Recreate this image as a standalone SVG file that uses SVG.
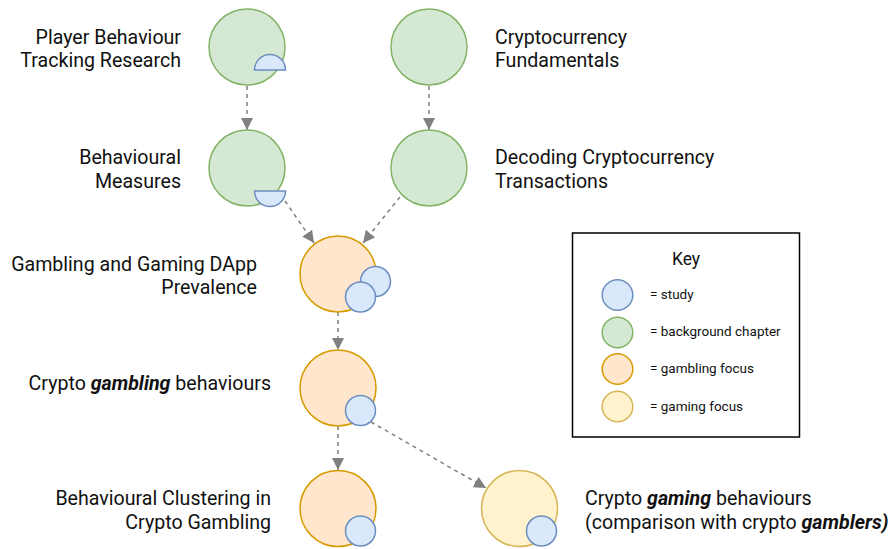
<svg xmlns="http://www.w3.org/2000/svg" width="894" height="549" viewBox="0 0 894 549">
<style>
  .bg{fill:#d5e8d4;stroke:#82b366;stroke-width:1.5}
  .gb{fill:#ffe6cc;stroke:#d79b00;stroke-width:1.5}
  .gm{fill:#fff2cc;stroke:#d6b656;stroke-width:1.5}
  .st{fill:#dae8fc;stroke:#6c8ebf;stroke-width:1.5}
  .lbl{font-family:Roboto,"Liberation Sans",sans-serif;font-size:19.6px;fill:#111111}
  .em{font-weight:bold;font-style:italic}
  .key{font-family:Roboto,"Liberation Sans",sans-serif;font-size:13.5px;fill:#111111}
  .edge{fill:none;stroke:#808080;stroke-width:1.5;stroke-dasharray:4 4}
</style>
<defs>
  <marker id="arr" viewBox="0 0 12 12" refX="12" refY="6" markerWidth="12" markerHeight="12" markerUnits="userSpaceOnUse" orient="auto">
    <path d="M0,0 L12,6 L0,12 z" fill="#808080"/>
  </marker>
</defs>
<rect width="894" height="549" fill="#ffffff"/>

<g id="connectors">
  <line class="edge" x1="247" y1="86" x2="247" y2="130" marker-end="url(#arr)"/>
  <line class="edge" x1="429" y1="86" x2="429" y2="130" marker-end="url(#arr)"/>
  <line class="edge" x1="285" y1="201" x2="314" y2="243" marker-end="url(#arr)"/>
  <line class="edge" x1="400" y1="197" x2="363" y2="243" marker-end="url(#arr)"/>
  <line class="edge" x1="338" y1="312" x2="338" y2="350" marker-end="url(#arr)"/>
  <line class="edge" x1="338" y1="426" x2="338" y2="470" marker-end="url(#arr)"/>
  <line class="edge" x1="371" y1="422" x2="486" y2="488" marker-end="url(#arr)"/>
</g>

<g id="player-behaviour-tracking">
  <circle class="bg" cx="247" cy="47" r="38"/>
  <path class="st" d="M254.5,70 A15.5,15.5 0 0 1 285.5,70 Z"/>
  <text class="lbl" text-anchor="end" x="181" y="44">Player Behaviour</text>
  <text class="lbl" text-anchor="end" x="181" y="67">Tracking Research</text>
</g>

<g id="crypto-fundamentals">
  <circle class="bg" cx="429" cy="47" r="38"/>
  <text class="lbl" x="495" y="44">Cryptocurrency</text>
  <text class="lbl" x="495" y="67">Fundamentals</text>
</g>

<g id="behavioural-measures">
  <circle class="bg" cx="247" cy="168" r="38"/>
  <path class="st" d="M254.5,191 A15.5,15.5 0 0 0 285.5,191 Z"/>
  <text class="lbl" text-anchor="end" x="181" y="164">Behavioural</text>
  <text class="lbl" text-anchor="end" x="181" y="188">Measures</text>
</g>

<g id="decoding-transactions">
  <circle class="bg" cx="429" cy="168" r="38"/>
  <text class="lbl" x="495" y="164">Decoding Cryptocurrency</text>
  <text class="lbl" x="495" y="188">Transactions</text>
</g>

<g id="dapp-prevalence">
  <circle class="gb" cx="338" cy="274" r="38"/>
  <circle class="st" cx="375.5" cy="281.5" r="15"/>
  <circle class="st" cx="360.5" cy="297" r="15"/>
  <text class="lbl" text-anchor="end" x="257" y="271">Gambling and Gaming DApp</text>
  <text class="lbl" text-anchor="end" x="257" y="294">Prevalence</text>
</g>

<g id="crypto-gambling">
  <circle class="gb" cx="338" cy="388" r="38"/>
  <circle class="st" cx="360.5" cy="410.5" r="15"/>
  <text class="lbl" text-anchor="end" x="271" y="389.5">Crypto <tspan class="em">gambling</tspan> behaviours</text>
</g>

<g id="behavioural-clustering">
  <circle class="gb" cx="338" cy="508.5" r="38"/>
  <circle class="st" cx="360.5" cy="531" r="15"/>
  <text class="lbl" text-anchor="end" x="271" y="504.5">Behavioural Clustering in</text>
  <text class="lbl" text-anchor="end" x="271" y="528.5">Crypto Gambling</text>
</g>

<g id="crypto-gaming">
  <circle class="gm" cx="519.5" cy="508.5" r="38"/>
  <circle class="st" cx="541.5" cy="531" r="15"/>
  <text class="lbl" x="585" y="504.5">Crypto <tspan class="em">gaming</tspan> behaviours</text>
  <text class="lbl" x="585" y="528.5">(comparison with crypto <tspan class="em">gamblers)</tspan></text>
</g>

<g id="legend">
  <rect x="572.5" y="233" width="227" height="204" fill="#ffffff" stroke="#000000" stroke-width="1.5"/>
  <text x="686" y="265" text-anchor="middle" font-family="Roboto,'Liberation Sans',sans-serif" font-size="17.5" fill="#111111">Key</text>
  <circle class="st" cx="617.5" cy="295" r="15.3"/>
  <text class="key" x="650" y="299">= study</text>
  <circle class="bg" cx="617.5" cy="332.5" r="15.3"/>
  <text class="key" x="650" y="336">= background chapter</text>
  <circle class="gb" cx="617.5" cy="369" r="15.3"/>
  <text class="key" x="650" y="373">= gambling focus</text>
  <circle class="gm" cx="617.5" cy="406.5" r="15.3"/>
  <text class="key" x="650" y="410.5">= gaming focus</text>
</g>
</svg>
